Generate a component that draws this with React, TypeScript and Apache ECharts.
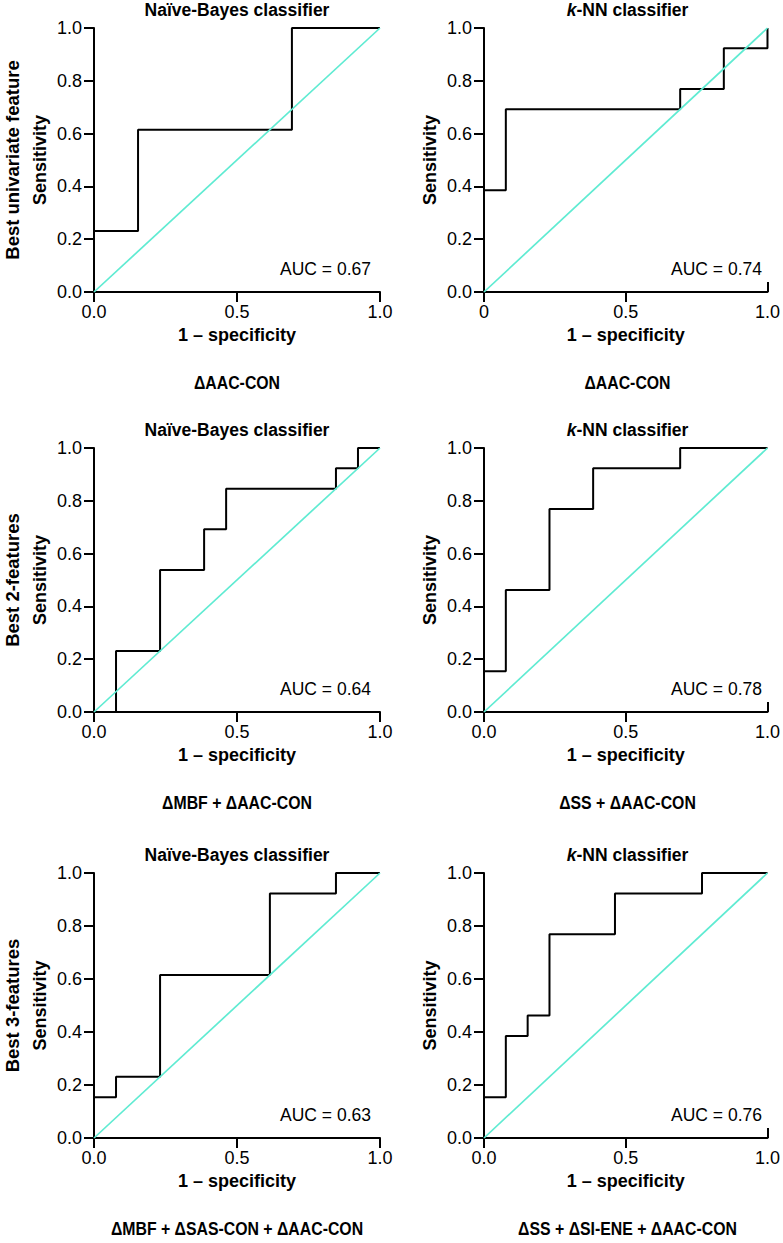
import React, { useEffect, useRef } from "react";
import * as echarts from "echarts";

// ---------- data ----------
const rowLabels = ["Best univariate feature", "Best 2-features", "Best 3-features"];
const classifierTitles = ["Naïve-Bayes classifier", "{i|k}-NN classifier"];
const featureLabels = [
  "ΔAAC-CON",
  "ΔAAC-CON",
  "ΔMBF + ΔAAC-CON",
  "ΔSS + ΔAAC-CON",
  "ΔMBF + ΔSAS-CON + ΔAAC-CON",
  "ΔSS + ΔSI-ENE + ΔAAC-CON",
];
const aucValues = [0.67, 0.74, 0.64, 0.78, 0.63, 0.76];

// ROC step points (1 - specificity, sensitivity); drawn with step "start"
const nbUniFpr = [0, 0.154, 0.692, 1];
const nbUniTpr = [0, 0.231, 0.615, 1];
const knnUniFpr = [0, 0.077, 0.692, 0.846, 1, 1];
const knnUniTpr = [0, 0.385, 0.692, 0.769, 0.923, 1];
const nb2Fpr = [0, 0.077, 0.231, 0.385, 0.462, 0.846, 0.923, 1];
const nb2Tpr = [0, 0, 0.231, 0.538, 0.692, 0.846, 0.923, 1];
const knn2Fpr = [0, 0.077, 0.231, 0.385, 0.692, 1];
const knn2Tpr = [0, 0.154, 0.462, 0.769, 0.923, 1];
const nb3Fpr = [0, 0.077, 0.231, 0.615, 0.846, 1];
const nb3Tpr = [0, 0.154, 0.231, 0.615, 0.923, 1];
const knn3Fpr = [0, 0.077, 0.154, 0.231, 0.462, 0.769, 1];
const knn3Tpr = [0, 0.154, 0.385, 0.462, 0.769, 0.923, 1];

const chanceFpr = [0, 1];
const chanceTpr = [0, 1];

const xTickValues = [0, 0.5, 1];
const xTickLabels = ["0.0", "0.5", "1.0"];
const xTickLabelsShort = ["0", "0.5", "1.0"];
const yTickValues = [0, 0.2, 0.4, 0.6, 0.8, 1];
const yTickLabels = ["0.0", "0.2", "0.4", "0.6", "0.8", "1.0"];

const rocFpr = [nbUniFpr, knnUniFpr, nb2Fpr, knn2Fpr, nb3Fpr, knn3Fpr];
const rocTpr = [nbUniTpr, knnUniTpr, nb2Tpr, knn2Tpr, nb3Tpr, knn3Tpr];

// ---------- layout ----------
const FONT = '"Liberation Sans", Arial, Helvetica, sans-serif';
const colLeft = [94, 484];
const colWidth = [286, 287];
const rowTop = [28, 448, 873];
const rowHeight = [264, 264, 265];
const CYAN = "#5FEBD2";
const FS = 18;
const FS_TITLE = 17.5;
const FS_AUC = 17.5;

const pair = (xs: number[], ys: number[]) => xs.map((x, i) => [x, ys[i]]);

export default function App() {
  const ref = useRef<HTMLDivElement>(null);
  useEffect(() => {
    document.body.style.margin = "0";
    if (!ref.current) return;
    const chart = echarts.init(ref.current, null, { renderer: "svg" });

    const grids: any[] = [];
    const xAxes: any[] = [];
    const yAxes: any[] = [];
    const series: any[] = [];
    const graphics: any[] = [];

    for (let p = 0; p < 6; p++) {
      const r = Math.floor(p / 2);
      const c = p % 2;
      const left = colLeft[c];
      const width = colWidth[c];
      const top = rowTop[r];
      const height = rowHeight[r];
      grids.push({ left, top, width, height, containLabel: false });

      const labels = p === 1 ? xTickLabelsShort : xTickLabels;
      const xi = xAxes.length;
      xAxes.push({
        gridIndex: p,
        type: "value",
        min: 0,
        max: 1,
        interval: 0.5,
        position: "bottom",
        axisLine: { show: true, lineStyle: { color: "#000", width: 2 } },
        axisTick: {
          show: true,
          length: 10,
          lineStyle: { color: "#000", width: 2 },
          ...(c === 1 ? { customValues: [0, 0.5] } : {}),
        },
        axisLabel: {
          color: "#000",
          fontSize: FS,
          fontFamily: FONT,
          margin: 11,
          formatter: (v: number) => {
            const k = xTickValues.findIndex((t) => Math.abs(t - v) < 1e-9);
            return k >= 0 ? labels[k] : "";
          },
        },
        splitLine: { show: false },
        name: "1 – specificity",
        nameLocation: "middle",
        nameGap: 34,
        nameTextStyle: { color: "#000", fontSize: FS, fontWeight: "bold", fontFamily: FONT },
      });
      if (c === 1) {
        xAxes.push({
          gridIndex: p,
          type: "value",
          min: 0,
          max: 1,
          interval: 1,
          position: "bottom",
          axisLine: { show: false },
          axisTick: { show: true, inside: true, length: 10, lineStyle: { color: "#000", width: 2 } },
          axisLabel: { show: false },
          splitLine: { show: false },
        });
      }
      yAxes.push({
        gridIndex: p,
        type: "value",
        min: 0,
        max: 1,
        interval: 0.2,
        axisLine: { show: true, lineStyle: { color: "#000", width: 2 } },
        axisTick: { show: true, length: 10, lineStyle: { color: "#000", width: 2 } },
        axisLabel: {
          color: "#000",
          fontSize: FS,
          fontFamily: FONT,
          margin: 12,
          formatter: (v: number) => {
            const k = yTickValues.findIndex((t) => Math.abs(t - v) < 1e-9);
            return k >= 0 ? yTickLabels[k] : "";
          },
        },
        splitLine: { show: false },
        name: "Sensitivity",
        nameLocation: "middle",
        nameGap: 45,
        nameTextStyle: { color: "#000", fontSize: FS, fontWeight: "bold", fontFamily: FONT },
      });

      series.push({
        type: "line",
        xAxisIndex: xi,
        yAxisIndex: p,
        data: pair(rocFpr[p], rocTpr[p]),
        step: "start",
        symbol: "none",
        clip: false,
        lineStyle: { color: "#000", width: 2 },
        z: 3,
      });
      series.push({
        type: "line",
        xAxisIndex: xi,
        yAxisIndex: p,
        data: pair(chanceFpr, chanceTpr),
        symbol: "none",
        clip: false,
        lineStyle: { color: CYAN, width: 1.7 },
        z: 4,
      });

      // title
      graphics.push({
        type: "text",
        x: left + width / 2,
        y: top - 18,
        style: {
          text: classifierTitles[c],
          fill: "#000",
          fontSize: FS_TITLE,
          fontWeight: "bold",
          fontFamily: FONT,
          align: "center",
          verticalAlign: "middle",
          rich: {
            i: { fontStyle: "italic", fontWeight: "bold", fontSize: FS_TITLE, fontFamily: FONT, fill: "#000" },
          },
        },
      });
      // AUC
      graphics.push({
        type: "text",
        x: left + width - 9,
        y: top + height - 23,
        style: {
          text: "AUC = " + aucValues[p].toFixed(2),
          fill: "#000",
          fontSize: FS_AUC,
          fontFamily: FONT,
          align: "right",
          verticalAlign: "middle",
        },
      });
      // feature label (condensed bold)
      graphics.push({
        type: "text",
        x: left + width / 2,
        y: top + height + 91,
        scaleX: 0.88,
        style: {
          text: featureLabels[p],
          fill: "#000",
          fontSize: FS,
          fontWeight: "bold",
          fontFamily: FONT,
          align: "center",
          verticalAlign: "middle",
        },
      });
    }

    for (let r = 0; r < 3; r++) {
      graphics.push({
        type: "text",
        x: 12,
        y: rowTop[r] + rowHeight[r] / 2,
        rotation: Math.PI / 2,
        style: {
          text: rowLabels[r],
          fill: "#000",
          fontSize: 18.5,
          fontWeight: "bold",
          fontFamily: FONT,
          align: "center",
          verticalAlign: "middle",
        },
      });
    }

    chart.setOption({
      animation: false,
      backgroundColor: "#fff",
      grid: grids,
      xAxis: xAxes,
      yAxis: yAxes,
      series,
      graphic: graphics,
    });
    return () => chart.dispose();
  }, []);
  return <div ref={ref} style={{ width: 783, height: 1243 }} />;
}
